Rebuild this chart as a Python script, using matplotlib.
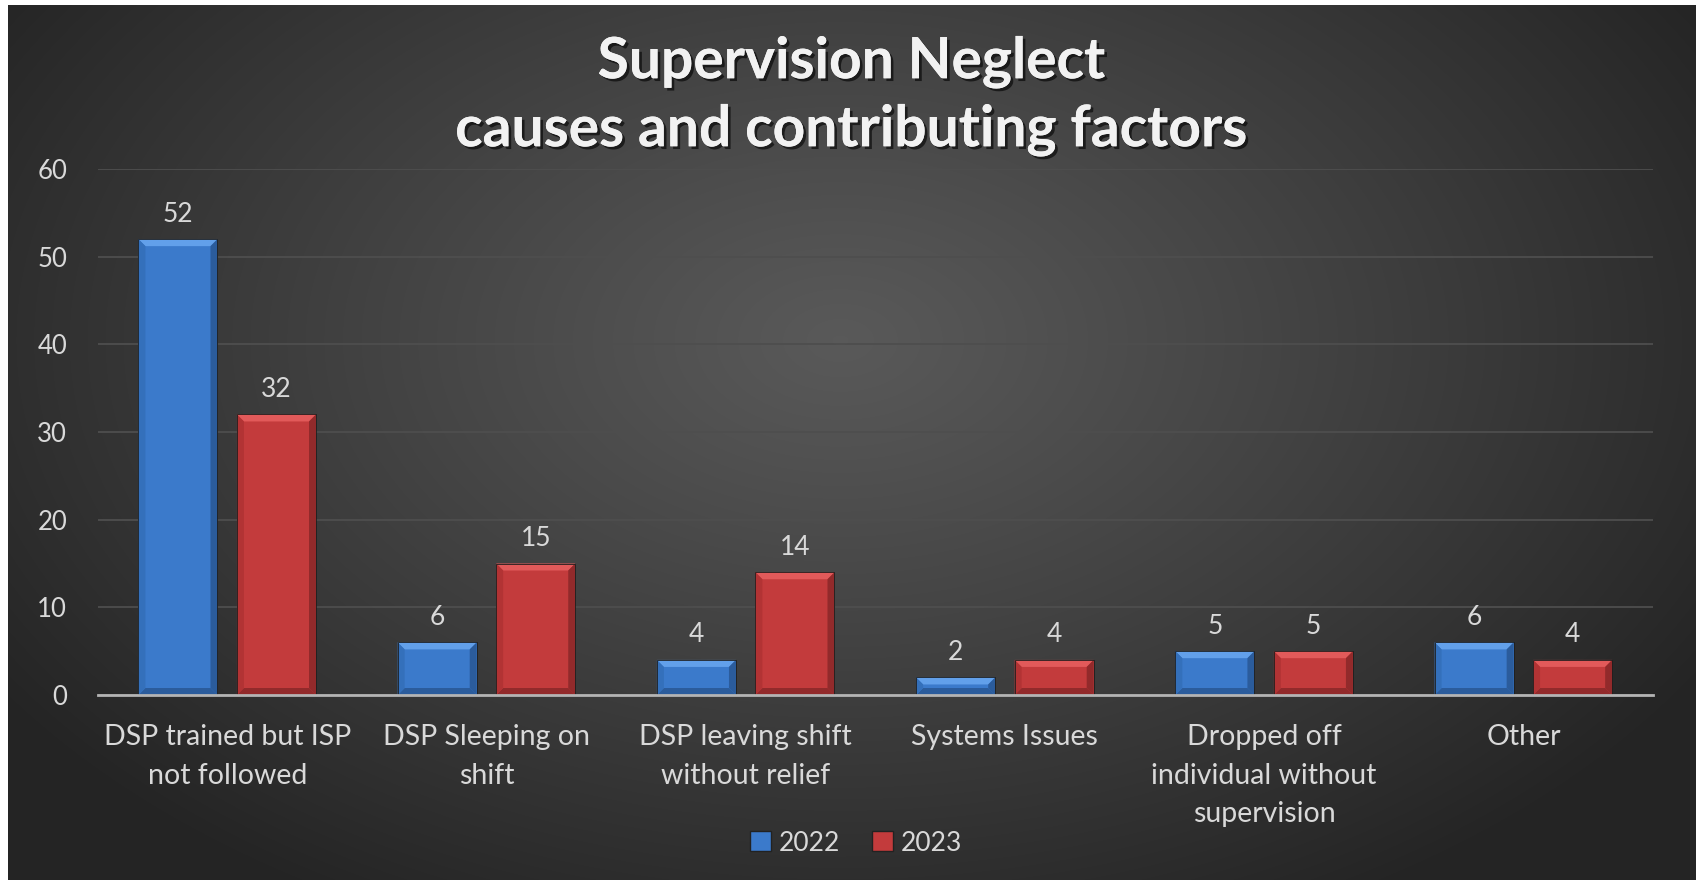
import numpy as np
import matplotlib.pyplot as plt
from matplotlib.patches import Polygon, Rectangle
import matplotlib.patheffects as pe

categories = ["DSP trained but ISP\nnot followed", "DSP Sleeping on\nshift",
              "DSP leaving shift\nwithout relief", "Systems Issues",
              "Dropped off\nindividual without\nsupervision", "Other"]
years = ["2022", "2023"]
vals_2022 = [52, 6, 4, 2, 5, 6]
vals_2023 = [32, 15, 14, 4, 5, 4]
yticks = [0, 10, 20, 30, 40, 50, 60]

FONT = "Lato"
TXT = "#d9d9d9"
colors = {"2022": ("#3b7acb", "#62a0ea", "#2b5c9c", "#3470bb"),
          "2023": ("#c33b3c", "#e25a5a", "#922a2b", "#b23334")}

W, H = 1700, 880
fig = plt.figure(figsize=(W / 100, H / 100), dpi=100, facecolor="white")

# background panel with radial gradient
bg = fig.add_axes([0, 0, 1, 1], zorder=-5)
bg.set_axis_off()
yy, xx = np.mgrid[0:H, 0:W]
r = np.sqrt(((xx - 840) / 1000.0) ** 2 + ((yy - 340) / 640.0) ** 2)
r = np.clip(r, 0, 1)
lo, hi = 0.145, 0.35
g = hi - (hi - lo) * r ** 1.1
img = np.dstack([g, g, g])
img[:5, :, :] = 1.0
img[:, :8, :] = 1.0
img[:, 1696:, :] = 1.0
bg.imshow(img, extent=[0, W, H, 0], aspect="auto", interpolation="bilinear")
bg.set_xlim(0, W)
bg.set_ylim(H, 0)

left, right = 97.6 / W, 1653 / W
bottom, top = 1 - 695 / H, 1 - 169 / H
ax = fig.add_axes([left, bottom, right - left, top - bottom])
ax.set_facecolor("none")

n = len(categories)
x = np.arange(n)
bw = 0.305
off = 0.19
ax.set_xlim(-0.5, n - 0.5)
ax.set_ylim(0, 60)

ax_w_px = (right - left) * W
ax_h_px = (top - bottom) * H
bpx = 7
dx = bpx * n / ax_w_px
dy = bpx * 60 / ax_h_px

def bevel_bar(xc, h, cols):
    base, light, dark, side = cols
    x0, x1 = xc - bw / 2, xc + bw / 2
    ax.add_patch(Rectangle((x0, 0), bw, h, facecolor=base, edgecolor="none", zorder=3))
    b = min(dy, h / 2)
    bx = min(dx, bw / 2)
    # top highlight
    ax.add_patch(Polygon([(x0, h), (x1, h), (x1 - bx, h - b), (x0 + bx, h - b)],
                         closed=True, facecolor=light, edgecolor="none", zorder=4))
    # bottom shade
    ax.add_patch(Polygon([(x0, 0), (x1, 0), (x1 - bx, b), (x0 + bx, b)],
                         closed=True, facecolor=dark, edgecolor="none", zorder=4))
    # sides
    ax.add_patch(Polygon([(x0, 0), (x0 + bx, b), (x0 + bx, h - b), (x0, h)],
                         closed=True, facecolor=side, edgecolor="none", zorder=4))
    ax.add_patch(Polygon([(x1, 0), (x1 - bx, b), (x1 - bx, h - b), (x1, h)],
                         closed=True, facecolor=dark, edgecolor="none", zorder=4))
    ax.add_patch(Rectangle((x0, 0), bw, h, facecolor="none", edgecolor="#1e1e1e",
                           linewidth=0.6, zorder=5))
    ax.annotate(str(h), (xc, h), xytext=(0, 9), textcoords="offset points",
                ha="center", va="bottom", color=TXT, fontsize=19, family=FONT)

for i in range(n):
    bevel_bar(x[i] - off, vals_2022[i], colors["2022"])
    bevel_bar(x[i] + off, vals_2023[i], colors["2023"])

ax.set_yticks(yticks)
ax.yaxis.grid(True, color="#4e4e4e", linewidth=1.3)
ax.set_axisbelow(True)
ax.set_xticks(x)
ax.set_xticklabels(categories, linespacing=1.6)
ax.tick_params(axis="both", length=0, colors=TXT, labelsize=18.5)
ax.tick_params(axis="x", labelsize=20.5, pad=21)
ax.tick_params(axis="y", pad=22)
for lab in ax.get_xticklabels() + ax.get_yticklabels():
    lab.set_family(FONT)
for s in ["left", "right", "top"]:
    ax.spines[s].set_visible(False)
ax.spines["bottom"].set_color("#b4b4b4")
ax.spines["bottom"].set_linewidth(2)
ax.spines["bottom"].set_zorder(6)

shadow = [pe.withSimplePatchShadow(offset=(2, -2), shadow_rgbFace="black", alpha=0.6), pe.Normal()]
fig.text(852 / W, 1 - 62 / H, "Supervision Neglect", ha="center", va="center",
         color="#f2f2f2", fontsize=41, fontweight="bold", family=FONT, path_effects=shadow)
fig.text(852 / W, 1 - 130 / H, "causes and contributing factors", ha="center", va="center",
         color="#f2f2f2", fontsize=41, fontweight="bold", family=FONT, path_effects=shadow)

handles = [Rectangle((0, 0), 1, 1, facecolor=colors[y][0], edgecolor="#222222") for y in years]
fig.legend(handles, years, loc="center", bbox_to_anchor=(856 / W, 1 - 843 / H), ncol=2,
           frameon=False, labelcolor=TXT, prop={"family": FONT, "size": 19},
           handlelength=0.8, handleheight=0.8, handletextpad=0.3, columnspacing=1.2)

fig.savefig("out.png", dpi=100, facecolor="white")
